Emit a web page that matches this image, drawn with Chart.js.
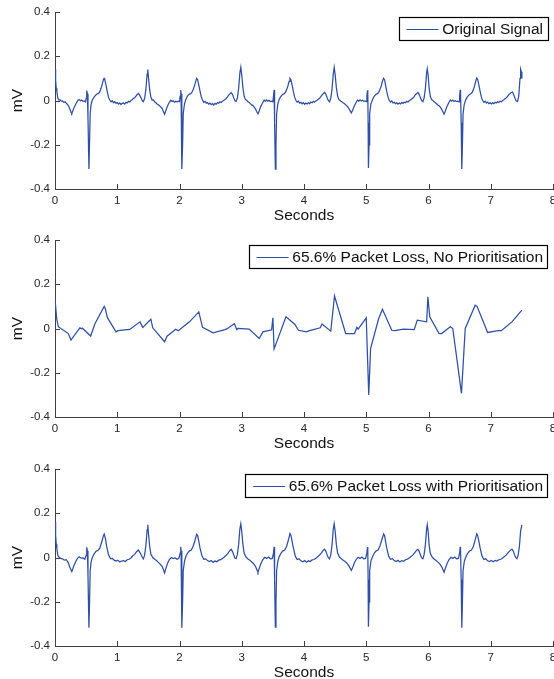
<!DOCTYPE html>
<html><head><meta charset="utf-8">
<script src="https://cdn.jsdelivr.net/npm/chart.js@4.4.0/dist/chart.umd.min.js"></script>
<style>
html,body{margin:0;padding:0;background:#fff;width:554px;height:679px;overflow:hidden;}
.p{position:absolute;left:0;width:554px;height:228px;}
</style></head><body>
<div class="p" style="top:0px"><canvas id="c1" width="554" height="228"></canvas></div>
<div class="p" style="top:228px"><canvas id="c2" width="554" height="228"></canvas></div>
<div class="p" style="top:457px"><canvas id="c3" width="554" height="228"></canvas></div>
<script>
// ---- data ----
const xTickLabels = ['0','1','2','3','4','5','6','7','8'];
const yTickLabels = ['-0.4','-0.2','0','0.2','0.4'];
const seriesLabels = ['Original Signal','65.6% Packet Loss, No Prioritisation','65.6% Packet Loss with Prioritisation'];

const originalSignal = [
[0,0.14],[0.01,0.09],[0.02,0.055],[0.03,0.04],[0.045,0.012],[0.06,0.002],[0.08,0.004],[0.1,-0.003],[0.12,-0.002],[0.14,-0.008],[0.16,-0.006],[0.18,-0.012],[0.2,-0.018],[0.22,-0.026],[0.24,-0.04],[0.26,-0.055],[0.27,-0.058],[0.29,-0.044],[0.31,-0.03],[0.33,-0.018],[0.35,-0.008],[0.37,0.002],[0.39,0.004],[0.41,-0.001],[0.43,0.002],[0.45,-0.004],[0.47,-0.002],[0.49,-0.006],[0.5,0.01],[0.51,0.045],[0.52,0.03],[0.53,-0.08],[0.545,-0.31],[0.555,-0.19],[0.565,-0.06],[0.58,-0.018],[0.6,0.002],
[0.62,0.012],[0.64,0.02],[0.66,0.026],[0.68,0.03],[0.7,0.032],[0.72,0.04],[0.74,0.055],[0.76,0.075],[0.78,0.097],[0.79,0.1],[0.8,0.094],[0.82,0.068],[0.84,0.04],[0.86,0.014],[0.88,0.002],[0.9,-0.006],[0.92,-0.001],[0.94,-0.01],[0.96,-0.005],[0.98,-0.013],[1.0,-0.009],[1.02,-0.016],[1.04,-0.011],[1.06,-0.018],[1.08,-0.013],[1.1,-0.011],[1.12,-0.016],[1.14,-0.008],[1.16,-0.011],[1.18,-0.004],[1.2,-0.007],[1.22,0.0],[1.24,0.003],[1.26,0.01],[1.28,0.012],[1.3,0.02],[1.32,0.027],[1.34,0.032],[1.36,0.024],[1.38,0.013],[1.4,0.0],[1.42,-0.005],[1.44,0.01],[1.46,0.05],[1.48,0.12],[1.49,0.14],[1.5,0.11],[1.52,0.05],[1.54,0.016],[1.56,0.002],[1.58,0.003],[1.6,-0.006],[1.62,-0.01],[1.64,-0.016],[1.66,-0.019],[1.68,-0.024],[1.7,-0.03],[1.72,-0.036],[1.74,-0.049],[1.76,-0.062],[1.78,-0.046],[1.8,-0.03],[1.82,-0.017],[1.84,-0.007],[1.86,0.001],[1.88,-0.004],[1.9,-0.001],[1.92,-0.008],[1.94,-0.003],[1.96,-0.006],[1.98,-0.003],[2.0,-0.005],[2.01,0.02],[2.02,0.047],[2.025,0.03],[2.035,-0.1],[2.04,-0.31],[2.05,-0.2],[2.06,-0.06],[2.08,-0.016],
[2.1,0.004],[2.12,0.016],[2.14,0.024],[2.16,0.029],[2.18,0.031],[2.2,0.038],[2.22,0.05],[2.24,0.066],[2.26,0.085],[2.275,0.1],[2.29,0.095],[2.31,0.07],[2.33,0.042],[2.35,0.016],[2.37,0.002],[2.39,-0.008],[2.41,-0.004],[2.43,-0.012],[2.45,-0.009],[2.47,-0.016],[2.49,-0.012],[2.51,-0.019],[2.53,-0.014],[2.55,-0.02],[2.57,-0.013],[2.59,-0.017],[2.61,-0.01],[2.63,-0.012],[2.65,-0.006],[2.67,-0.009],[2.69,-0.003],[2.71,0.0],[2.73,0.005],[2.75,0.009],[2.77,0.016],[2.79,0.024],[2.81,0.03],[2.83,0.035],[2.85,0.028],[2.87,0.013],[2.89,-0.001],[2.91,-0.004],[2.93,0.012],[2.95,0.055],[2.97,0.125],[2.985,0.15],[3.0,0.115],[3.02,0.055],[3.04,0.018],[3.06,0.004],[3.08,0.001],[3.1,-0.006],[3.12,-0.009],[3.14,-0.014],[3.16,-0.02],[3.18,-0.023],[3.2,-0.03],[3.22,-0.038],[3.24,-0.05],[3.26,-0.06],[3.28,-0.047],[3.3,-0.031],[3.32,-0.019],[3.34,-0.008],[3.36,0.002],[3.38,-0.004],[3.4,0.003],[3.42,-0.003],[3.44,0.001],[3.46,-0.005],[3.48,-0.003],[3.5,-0.006],[3.51,0.02],[3.52,0.048],[3.525,0.03],[3.53,-0.1],[3.54,-0.31],[3.55,-0.2],[3.56,-0.06],[3.58,-0.015],
[3.6,0.004],[3.62,0.015],[3.64,0.022],[3.66,0.028],[3.68,0.03],[3.7,0.036],[3.72,0.048],[3.74,0.064],[3.76,0.086],[3.775,0.1],[3.79,0.094],[3.81,0.068],[3.83,0.04],[3.85,0.015],[3.87,0.001],[3.89,-0.007],[3.91,-0.003],[3.93,-0.012],[3.95,-0.008],[3.97,-0.015],[3.99,-0.01],[4.01,-0.017],[4.03,-0.012],[4.05,-0.016],[4.07,-0.01],[4.09,-0.014],[4.11,-0.007],[4.13,-0.01],[4.15,-0.004],[4.17,-0.008],[4.19,-0.002],[4.21,0.001],[4.23,0.006],[4.25,0.01],[4.27,0.017],[4.29,0.025],[4.31,0.031],[4.33,0.037],[4.35,0.029],[4.37,0.014],[4.39,0.0],[4.41,-0.006],[4.43,0.01],[4.45,0.05],[4.47,0.12],[4.485,0.15],[4.5,0.118],[4.52,0.058],[4.54,0.02],[4.56,0.005],[4.58,0.0],[4.6,-0.005],[4.62,-0.008],[4.64,-0.013],[4.66,-0.017],[4.68,-0.022],[4.7,-0.028],[4.72,-0.036],[4.74,-0.046],[4.76,-0.056],[4.78,-0.045],[4.8,-0.03],[4.82,-0.018],[4.84,-0.008],[4.86,0.002],[4.88,-0.003],[4.9,0.003],[4.92,-0.002],[4.94,0.001],[4.96,-0.004],[4.98,-0.002],[5.0,-0.005],[5.01,0.02],[5.02,0.046],[5.025,0.03],[5.03,-0.1],[5.035,-0.305],[5.045,-0.2],[5.055,-0.06],[5.075,-0.015],
[5.1,0.003],[5.12,0.016],[5.14,0.023],[5.16,0.028],[5.18,0.031],[5.2,0.037],[5.22,0.05],[5.24,0.065],[5.26,0.087],[5.28,0.1],[5.295,0.093],[5.31,0.07],[5.33,0.04],[5.35,0.015],[5.37,0.0],[5.39,-0.007],[5.41,-0.002],[5.43,-0.011],[5.45,-0.008],[5.47,-0.014],[5.49,-0.01],[5.51,-0.016],[5.53,-0.011],[5.55,-0.015],[5.57,-0.009],[5.59,-0.013],[5.61,-0.008],[5.63,-0.01],[5.65,-0.004],[5.67,-0.007],[5.69,-0.001],[5.71,0.002],[5.73,0.007],[5.75,0.011],[5.77,0.018],[5.79,0.026],[5.81,0.031],[5.83,0.036],[5.85,0.028],[5.87,0.012],[5.89,0.0],[5.91,-0.005],[5.93,0.012],[5.95,0.055],[5.97,0.125],[5.98,0.143],[5.995,0.112],[6.01,0.056],[6.03,0.018],[6.05,0.004],[6.07,0.0],[6.09,-0.006],[6.11,-0.01],[6.13,-0.015],[6.15,-0.02],[6.17,-0.024],[6.19,-0.03],[6.21,-0.039],[6.23,-0.05],[6.25,-0.062],[6.27,-0.048],[6.29,-0.032],[6.31,-0.019],[6.33,-0.008],[6.35,0.002],[6.37,-0.003],[6.39,0.002],[6.41,-0.004],[6.43,0.0],[6.45,-0.005],[6.47,-0.003],[6.49,-0.006],[6.5,0.02],[6.51,0.048],[6.515,0.03],[6.525,-0.1],[6.535,-0.31],[6.545,-0.2],[6.555,-0.06],[6.575,-0.016],
[6.6,0.004],[6.62,0.015],[6.64,0.022],[6.66,0.027],[6.68,0.03],[6.7,0.036],[6.72,0.048],[6.74,0.066],[6.76,0.088],[6.775,0.102],[6.79,0.095],[6.81,0.068],[6.83,0.04],[6.85,0.014],[6.87,0.0],[6.89,-0.008],[6.91,-0.003],[6.93,-0.012],[6.95,-0.007],[6.97,-0.014],[6.99,-0.01],[7.01,-0.015],[7.03,-0.01],[7.05,-0.014],[7.07,-0.008],[7.09,-0.011],[7.11,-0.006],[7.13,-0.009],[7.15,-0.003],[7.17,-0.006],[7.19,0.0],[7.21,0.003],[7.23,0.008],[7.25,0.012],[7.27,0.019],[7.29,0.026],[7.31,0.031],[7.33,0.036],[7.35,0.038],[7.37,0.025],[7.39,0.01],[7.41,-0.002],[7.43,-0.004],[7.45,0.02],[7.47,0.1],[7.48,0.14],[7.49,0.13],[7.5,0.1]
];

const lossNoPrioritisation = [
[0,0.135],[0.027,0.045],[0.053,0.008],[0.214,-0.023],[0.257,-0.052],[0.4,0.003],[0.42,0.0],[0.44,0.001],[0.573,-0.034],[0.64,0.02],[0.79,0.1],[0.81,0.088],[0.84,0.05],[0.98,-0.015],[1.01,-0.01],[1.2,-0.004],[1.365,0.03],[1.41,0.005],[1.54,0.042],[1.57,0.003],[1.76,-0.06],[1.8,-0.035],[1.94,-0.003],[1.98,-0.01],[2.16,0.03],[2.31,0.075],[2.37,0.005],[2.54,-0.02],[2.73,-0.005],[2.76,-0.002],[2.88,0.022],[2.92,-0.005],[2.94,0.0],[3.12,-0.003],[3.28,-0.045],[3.34,-0.015],[3.48,-0.006],[3.5,0.048],[3.52,-0.092],[3.71,0.053],[3.855,0.018],[3.91,-0.008],[4.04,-0.015],[4.09,-0.01],[4.26,0.003],[4.29,0.02],[4.43,-0.012],[4.49,0.147],[4.67,-0.023],[4.81,-0.023],[4.85,0.005],[4.87,-0.003],[5.0,0.048],[5.04,-0.3],[5.07,-0.09],[5.2,0.045],[5.26,0.087],[5.41,-0.008],[5.46,-0.01],[5.6,-0.003],[5.77,-0.005],[5.82,0.038],[5.97,0.03],[5.99,0.143],[6.02,0.053],[6.17,-0.023],[6.21,-0.023],[6.35,0.008],[6.39,0.0],[6.53,-0.293],[6.59,0.0],[6.75,0.105],[6.78,0.1],[6.95,-0.018],[7.12,-0.01],[7.17,-0.01],[7.34,0.03],[7.5,0.083]
];

const lossWithPrioritisation = [
[0,0.16],[0.01,0.1],[0.02,0.06],[0.03,0.04],[0.045,0.01],[0.06,0.003],[0.09,-0.004],[0.12,-0.006],[0.15,-0.012],[0.18,-0.01],[0.21,-0.022],[0.24,-0.045],[0.27,-0.064],[0.3,-0.04],[0.33,-0.02],[0.36,-0.004],[0.39,0.003],[0.42,-0.003],[0.45,-0.002],[0.48,-0.008],[0.5,0.01],[0.51,0.046],[0.52,0.03],[0.53,-0.08],[0.545,-0.318],[0.555,-0.2],[0.565,-0.06],[0.58,-0.02],[0.6,0.0],[0.63,0.018],[0.66,0.028],[0.69,0.032],[0.72,0.042],[0.75,0.07],[0.78,0.1],[0.79,0.106],[0.81,0.085],[0.83,0.05],[0.86,0.012],[0.89,-0.005],[0.92,-0.004],[0.95,-0.012],[0.98,-0.016],[1.01,-0.012],[1.04,-0.02],[1.07,-0.016],[1.1,-0.014],[1.13,-0.018],[1.16,-0.01],[1.19,-0.008],[1.22,-0.002],[1.25,0.008],[1.28,0.014],[1.31,0.026],[1.34,0.034],[1.37,0.02],[1.4,0.002],[1.42,-0.006],[1.44,0.012],[1.46,0.055],[1.48,0.125],[1.49,0.148],[1.5,0.115],[1.52,0.052],[1.54,0.016],[1.57,0.0],[1.6,-0.008],[1.63,-0.014],[1.66,-0.022],[1.69,-0.03],[1.72,-0.04],[1.745,-0.058],[1.76,-0.07],[1.78,-0.05],[1.81,-0.025],[1.84,-0.008],[1.87,0.0],[1.9,-0.005],[1.93,-0.002],[1.96,-0.008],[1.99,-0.004],[2.01,0.02],[2.02,0.048],[2.025,0.03],[2.035,-0.1],[2.04,-0.318],[2.05,-0.2],[2.06,-0.06],[2.08,-0.018],
[2.1,0.004],[2.13,0.02],[2.16,0.03],[2.19,0.034],[2.22,0.052],[2.25,0.078],[2.275,0.105],[2.29,0.1],[2.31,0.074],[2.33,0.042],[2.36,0.008],[2.39,-0.008],[2.42,-0.006],[2.45,-0.014],[2.48,-0.018],[2.51,-0.014],[2.54,-0.022],[2.57,-0.016],[2.6,-0.019],[2.63,-0.012],[2.66,-0.01],[2.69,-0.004],[2.72,0.002],[2.75,0.01],[2.78,0.02],[2.81,0.032],[2.83,0.037],[2.85,0.028],[2.87,0.012],[2.89,-0.002],[2.91,-0.005],[2.93,0.014],[2.95,0.058],[2.97,0.13],[2.985,0.152],[3.0,0.118],[3.02,0.056],[3.04,0.018],[3.07,0.002],[3.1,-0.007],[3.13,-0.012],[3.16,-0.02],[3.19,-0.028],[3.22,-0.04],[3.245,-0.056],[3.26,-0.066],[3.28,-0.05],[3.31,-0.026],[3.34,-0.009],[3.37,0.001],[3.4,-0.004],[3.43,0.002],[3.46,-0.006],[3.49,-0.004],[3.51,0.02],[3.52,0.048],[3.525,0.03],[3.53,-0.1],[3.54,-0.315],[3.55,-0.2],[3.56,-0.06],[3.58,-0.017],
[3.6,0.003],[3.63,0.019],[3.66,0.03],[3.69,0.034],[3.72,0.05],[3.75,0.08],[3.775,0.108],[3.79,0.1],[3.81,0.072],[3.83,0.042],[3.86,0.006],[3.89,-0.009],[3.92,-0.006],[3.95,-0.015],[3.98,-0.019],[4.01,-0.014],[4.04,-0.021],[4.07,-0.015],[4.1,-0.018],[4.13,-0.011],[4.16,-0.009],[4.19,-0.003],[4.22,0.003],[4.25,0.011],[4.28,0.021],[4.31,0.033],[4.33,0.038],[4.35,0.029],[4.37,0.013],[4.39,-0.001],[4.41,-0.006],[4.43,0.012],[4.45,0.056],[4.47,0.128],[4.485,0.152],[4.5,0.12],[4.52,0.058],[4.54,0.02],[4.57,0.002],[4.6,-0.006],[4.63,-0.012],[4.66,-0.018],[4.69,-0.026],[4.72,-0.038],[4.745,-0.05],[4.76,-0.058],[4.78,-0.046],[4.81,-0.024],[4.84,-0.008],[4.87,0.001],[4.9,-0.004],[4.93,0.002],[4.96,-0.006],[4.99,-0.004],[5.01,0.02],[5.02,0.047],[5.025,0.03],[5.03,-0.1],[5.035,-0.313],[5.045,-0.2],[5.055,-0.06],[5.075,-0.016],
[5.1,0.003],[5.13,0.02],[5.16,0.03],[5.19,0.034],[5.22,0.052],[5.25,0.08],[5.28,0.106],[5.295,0.098],[5.31,0.074],[5.33,0.042],[5.36,0.006],[5.39,-0.008],[5.42,-0.005],[5.45,-0.014],[5.48,-0.018],[5.51,-0.013],[5.54,-0.02],[5.57,-0.014],[5.6,-0.017],[5.63,-0.01],[5.66,-0.008],[5.69,-0.002],[5.72,0.004],[5.75,0.012],[5.78,0.022],[5.81,0.033],[5.83,0.037],[5.85,0.028],[5.87,0.012],[5.89,-0.002],[5.91,-0.006],[5.93,0.014],[5.95,0.058],[5.97,0.13],[5.98,0.148],[5.995,0.115],[6.01,0.056],[6.03,0.018],[6.06,0.002],[6.09,-0.007],[6.12,-0.013],[6.15,-0.021],[6.18,-0.029],[6.21,-0.041],[6.235,-0.057],[6.25,-0.067],[6.27,-0.05],[6.3,-0.026],[6.33,-0.009],[6.36,0.001],[6.39,-0.004],[6.42,0.002],[6.45,-0.006],[6.48,-0.004],[6.5,0.02],[6.51,0.048],[6.515,0.03],[6.525,-0.1],[6.535,-0.318],[6.545,-0.2],[6.555,-0.06],[6.575,-0.018],
[6.6,0.003],[6.63,0.019],[6.66,0.029],[6.69,0.034],[6.72,0.05],[6.75,0.08],[6.775,0.107],[6.79,0.1],[6.81,0.072],[6.83,0.042],[6.86,0.006],[6.89,-0.009],[6.92,-0.006],[6.95,-0.015],[6.98,-0.018],[7.01,-0.013],[7.04,-0.019],[7.07,-0.013],[7.1,-0.016],[7.13,-0.01],[7.16,-0.008],[7.19,-0.002],[7.22,0.004],[7.25,0.012],[7.28,0.022],[7.31,0.031],[7.34,0.038],[7.36,0.03],[7.38,0.014],[7.4,0.0],[7.42,-0.005],[7.44,0.01],[7.46,0.05],[7.48,0.12],[7.5,0.148]
];

// ---- styling ----
const FONT = '"Liberation Sans", Arial, Helvetica, sans-serif';
const AXIS_COLOR = '#404040';
const LINE_COLOR = '#2f4fa6';

const inwardTicks = {
  id: 'inwardTicks',
  afterDraw(chart) {
    const ctx = chart.ctx, ca = chart.chartArea;
    const xs = chart.scales.x, ys = chart.scales.y;
    ctx.save();
    ctx.strokeStyle = AXIS_COLOR;
    ctx.lineWidth = 1;
    ctx.beginPath();
    xs.ticks.forEach(t => {
      const px = Math.round(xs.getPixelForValue(t.value)) + 0.5;
      ctx.moveTo(px, ca.bottom); ctx.lineTo(px, ca.bottom - 5);
    });
    ys.ticks.forEach(t => {
      const py = Math.round(ys.getPixelForValue(t.value)) + 0.5;
      ctx.moveTo(ca.left, py); ctx.lineTo(ca.left + 5, py);
    });
    ctx.stroke();
    ctx.restore();
  }
};

const boxedLegend = {
  id: 'boxedLegend',
  afterDraw(chart) {
    const ctx = chart.ctx, ca = chart.chartArea;
    const ds = chart.data.datasets[0];
    ctx.save();
    ctx.font = '15.5px ' + FONT;
    const w = ctx.measureText(ds.label).width;
    const right = ca.right - 5.7, top = ca.top + 5.2, h = 23;
    const left = right - 4.3 - w - 3.7 - 32 - 7.7;
    ctx.fillStyle = '#fff';
    ctx.fillRect(left, top, right - left, h);
    ctx.strokeStyle = '#000'; ctx.lineWidth = 1.2;
    ctx.strokeRect(Math.round(left) + 0.5, Math.round(top) + 0.5, Math.round(right - left), Math.round(h));
    const ly = Math.round(top + h / 2) + 0.5;
    ctx.strokeStyle = LINE_COLOR; ctx.lineWidth = 1.2;
    ctx.beginPath(); ctx.moveTo(left + 7.7, ly); ctx.lineTo(left + 39.7, ly); ctx.stroke();
    ctx.fillStyle = '#111'; ctx.textBaseline = 'middle'; ctx.textAlign = 'left';
    ctx.fillText(ds.label, left + 43.4, top + h / 2 + 1);
    ctx.restore();
  }
};

function makeChart(id, points, label) {
  return new Chart(document.getElementById(id), {
    type: 'line',
    data: { datasets: [{
      label: label,
      data: points.map(p => ({ x: p[0], y: p[1] })),
      borderColor: LINE_COLOR, borderWidth: 1.25,
      pointRadius: 0, tension: 0, fill: false
    }]},
    options: {
      responsive: false, animation: false,
      layout: { padding: { top: 12, right: 1, bottom: 0, left: 0 } },
      plugins: { legend: { display: false }, tooltip: { enabled: false } },
      scales: {
        x: {
          type: 'linear', min: 0, max: 8,
          ticks: { stepSize: 1, autoSkip: false, maxRotation: 0, padding: 5,
                   font: { family: FONT, size: 11.5 }, color: '#262626',
                   callback: (v, i) => xTickLabels[i] },
          grid: { display: false, drawTicks: false },
          border: { display: true, color: AXIS_COLOR, width: 1 },
          title: { display: true, text: 'Seconds', color: '#111',
                   font: { family: FONT, size: 15.5 }, padding: { top: 0, bottom: 3 } },
          afterFit(s) { s.height = 39; s.paddingLeft = 0; s.paddingRight = 0; }
        },
        y: {
          type: 'linear', min: -0.4, max: 0.4,
          ticks: { stepSize: 0.2, autoSkip: false, padding: 5,
                   font: { family: FONT, size: 11.5 }, color: '#262626',
                   callback: (v, i) => yTickLabels[i] },
          grid: { display: false, drawTicks: false },
          border: { display: true, color: AXIS_COLOR, width: 1 },
          title: { display: true, text: 'mV', color: '#111',
                   font: { family: FONT, size: 15.5 }, padding: { top: 8, bottom: 0 } },
          afterFit(s) { s.width = 55; s.paddingTop = 0; s.paddingBottom = 0; }
        }
      }
    },
    plugins: [inwardTicks, boxedLegend]
  });
}

makeChart('c1', originalSignal, seriesLabels[0]);
makeChart('c2', lossNoPrioritisation, seriesLabels[1]);
makeChart('c3', lossWithPrioritisation, seriesLabels[2]);
</script>
</body></html>
